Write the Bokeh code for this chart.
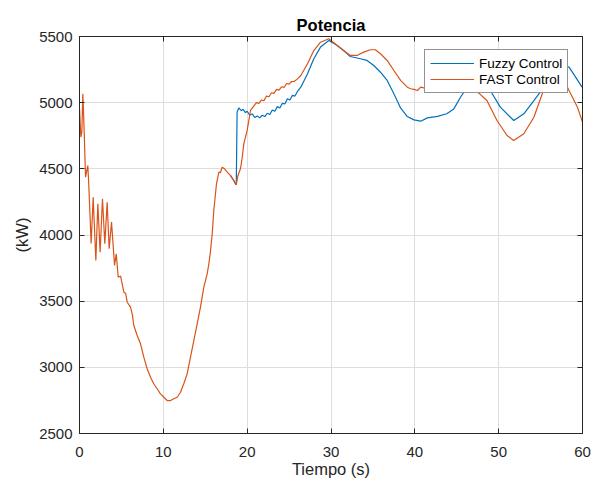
from bokeh.plotting import figure
from bokeh.models import LinearAxis, Legend, LegendItem, FixedTicker
from bokeh.embed import file_html
from bokeh.resources import INLINE

# ---- data ----
# common segment (both controllers identical before ~18.7 s)
t_shared = [0.0, 0.16, 0.28, 0.4, 0.55, 0.72, 0.85, 0.99, 1.1, 1.39, 1.63, 1.95, 2.19, 2.46,
            2.74, 3.02, 3.3, 3.54, 3.82, 4.18, 4.38, 4.62, 4.9, 5.29, 5.5, 5.69, 6.08, 6.3,
            6.48, 6.88, 7.28, 7.67, 8.07, 8.47, 8.86, 9.26, 9.66, 10.06, 10.46, 10.86, 11.25,
            11.65, 12.05, 12.44, 12.84, 13.24, 13.64, 14.04, 14.43, 14.83, 15.23, 15.43, 15.63,
            15.83, 16.02, 16.34, 16.62, 16.8, 17.02, 17.3, 17.62, 18.0, 18.4, 18.6, 18.7]
p_shared = [4960, 4740, 4780, 5067, 4800, 4437, 4480, 4525, 4389, 3936, 4286, 3807, 4236, 3870,
            4274, 3934, 4248, 3896, 4097, 3770, 3858, 3681, 3690, 3568, 3560, 3492, 3455, 3400,
            3316, 3241, 3178, 3077, 2989, 2925, 2876, 2838, 2800, 2774, 2749, 2749, 2762,
            2774, 2812, 2876, 2951, 3077, 3203, 3329, 3455, 3606, 3707, 3782, 3880,
            4009, 4185, 4387, 4475, 4470, 4512, 4500, 4475, 4450, 4412, 4387, 4380]

t_fast_rest = [18.9, 19.2, 19.4, 19.6, 20.0, 20.4, 20.8, 21.1, 21.4, 21.7, 22.0, 22.3, 22.6,
               22.9, 23.2, 23.5, 23.8, 24.1, 24.4, 24.7, 25.0, 25.3, 25.6, 26.0, 26.4, 27.2,
               27.95, 28.75, 29.74, 30.74, 31.5, 32.3, 33.1, 33.9, 34.7, 35.3, 35.9, 36.7,
               37.5, 38.3, 39.1, 39.5, 39.9, 40.3, 40.7, 41.5, 42.5, 43.5, 44.5, 45.5, 46.2,
               46.6, 47.5, 48.6, 49.8, 51.0, 51.8, 53.0, 54.2, 55.2, 56.0, 56.8, 57.5, 58.2,
               59.4, 60.0]
p_fast_rest = [4450, 4500, 4580, 4689, 4790, 4941, 4975, 5000, 4995, 5020, 5015, 5050, 5045,
               5075, 5070, 5100, 5095, 5120, 5115, 5145, 5140, 5160, 5160, 5180, 5205, 5294,
               5394, 5457, 5483, 5432, 5394, 5357, 5357, 5382, 5400, 5400, 5370, 5319,
               5243, 5168, 5117, 5105, 5100, 5092, 5117, 5105, 5090, 5095, 5085, 5100, 5120,
               5117, 5080, 5016, 4865, 4752, 4714, 4765, 4890, 5067, 5200, 5260, 5230, 5117,
               4966, 4853]

t_fuzzy_rest = [18.8, 19.0, 19.3, 19.5, 19.8, 20.0, 20.3, 20.6, 20.9, 21.2, 21.5, 21.8, 22.1,
                22.4, 22.7, 23.0, 23.3, 23.6, 23.9, 24.2, 24.5, 24.8, 25.1, 25.4, 25.7, 26.0,
                26.4, 27.2, 27.95, 28.75, 29.74, 30.74, 31.5, 32.3, 33.5, 34.3, 35.1, 35.9,
                36.7, 37.5, 38.3, 39.1, 39.9, 40.7, 41.5, 42.7, 43.8, 44.65, 45.45, 46.25,
                47.2, 48.0, 49.0, 50.2, 51.8, 53.0, 54.2, 55.4, 56.5, 57.5, 58.4, 59.95]
p_fuzzy_rest = [4930, 4960, 4940, 4950, 4925, 4935, 4905, 4915, 4888, 4900, 4885, 4905, 4895,
                4920, 4910, 4945, 4935, 4970, 4960, 4995, 4990, 5030, 5020, 5055, 5050, 5085,
                5117, 5218, 5332, 5420, 5470, 5432, 5394, 5349, 5332, 5319, 5281, 5230,
                5168, 5067, 4960, 4895, 4870, 4860, 4885, 4896, 4916, 4953, 5041, 5117,
                5180, 5170, 5092, 4966, 4865, 4916, 5016, 5117, 5250, 5300, 5268, 5117]

series_names = ["Fuzzy Control", "FAST Control"]
series_colors = ["#0072BD", "#D95319"]
x_ticks = [0, 10, 20, 30, 40, 50, 60]
y_ticks = [2500, 3000, 3500, 4000, 4500, 5000, 5500]

# the fuzzy trace lies exactly under the FAST trace before ~18 s; only its tail is drawn
t_fuzzy = t_shared[-4:] + t_fuzzy_rest
p_fuzzy = p_shared[-4:] + p_fuzzy_rest
t_fast = t_shared + t_fast_rest
p_fast = p_shared + p_fast_rest

FONT = "Liberation Sans"
INK = "#262626"

p = figure(width=593, height=482, x_range=(0, 60), y_range=(2500, 5500),
           output_backend="svg", toolbar_location=None, title="Potencia",
           min_border_left=79, min_border_right=11, min_border_top=36, min_border_bottom=49)
p.background_fill_color = "white"
p.border_fill_color = "white"
p.outline_line_color = INK
p.outline_line_width = 1

p.title.align = "center"
p.title.text_font = FONT
p.title.text_font_size = "16.5px"
p.title.text_font_style = "bold"
p.title.text_color = "#000000"
p.title.standoff = 5

for ax in (p.xaxis[0], p.yaxis[0]):
    ax.axis_line_color = INK
    ax.major_tick_line_color = INK
    ax.major_tick_in = 5
    ax.major_tick_out = 0
    ax.minor_tick_line_color = None
    ax.major_label_text_font = FONT
    ax.major_label_text_font_size = "15px"
    ax.major_label_text_color = INK
    ax.axis_label_text_font = FONT
    ax.axis_label_text_font_size = "16.5px"
    ax.axis_label_text_font_style = "normal"
    ax.axis_label_text_color = INK

p.xaxis.ticker = FixedTicker(ticks=x_ticks)
p.yaxis.ticker = FixedTicker(ticks=y_ticks)
p.xaxis.axis_label = "Tiempo (s)"
p.yaxis.axis_label = "(kW)"
p.xaxis.major_label_standoff = 13
p.yaxis.major_label_standoff = 7
p.xaxis.axis_label_standoff = 0
p.yaxis.axis_label_standoff = 5

# top / right tick marks (closed box, ticks pointing inwards, no labels)
top = LinearAxis(ticker=FixedTicker(ticks=x_ticks), major_tick_in=5, major_tick_out=0,
                 minor_tick_line_color=None, major_label_text_font_size="1px",
                 major_label_text_color=None, major_label_standoff=0,
                 axis_line_color=INK, major_tick_line_color=INK)
right = LinearAxis(ticker=FixedTicker(ticks=y_ticks), major_tick_in=5, major_tick_out=0,
                   minor_tick_line_color=None, major_label_text_font_size="1px",
                   major_label_text_color=None, major_label_standoff=0,
                   axis_line_color=INK, major_tick_line_color=INK)
p.add_layout(top, "above")
p.add_layout(right, "right")

p.grid.grid_line_color = "#dedede"
p.grid.grid_line_width = 1

r1 = p.line(t_fuzzy, p_fuzzy, line_color=series_colors[0], line_width=1.2)
r2 = p.line(t_fast, p_fast, line_color=series_colors[1], line_width=1.2)

legend = Legend(items=[LegendItem(label=series_names[0], renderers=[r1]),
                       LegendItem(label=series_names[1], renderers=[r2])],
                location=(345, 340), padding=5, spacing=0, margin=0,
                glyph_width=44, glyph_height=16, label_height=16, label_standoff=5,
                label_text_font=FONT, label_text_font_size="13.5px", label_text_color="#000000",
                border_line_color=INK, border_line_width=1, background_fill_alpha=1)
p.add_layout(legend, "center")

open("out.html", "w").write(file_html(p, INLINE))
